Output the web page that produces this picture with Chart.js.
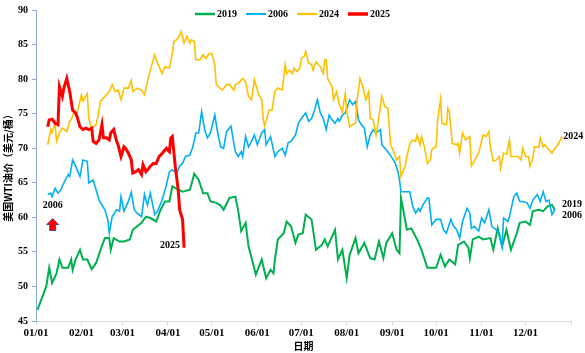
<!DOCTYPE html>
<html>
<head>
<meta charset="utf-8">
<script src="https://cdn.jsdelivr.net/npm/chart.js@4"></script>
<style>
  body { margin: 0; background: #fff; }
</style>
</head>
<body>
<canvas id="chart" width="585" height="353"></canvas>
<script>
/******************** data: [day of year, WTI price] ********************/

const monthDays = [0, 31, 59, 90, 120, 151, 181, 212, 243, 273, 304, 334, 365];
const monthLabels = ["01/01", "02/01", "03/01", "04/01", "05/01", "06/01",
  "07/01", "08/01", "09/01", "10/01", "11/01", "12/01", ""];

const seriesNames = ["2019", "2006", "2024", "2025"];

const wti2019 = [[1,46.6],[7,50.0],[9,52.7],[11,50.5],[14,51.9],[16,53.9],[18,52.7],[22,52.7],
  [24,53.9],[25,52.4],[27,53.9],[30,55.3],[32,53.9],[35,53.9],[38,52.5],[41,53.4],[44,55.3],
  [47,57.0],[50,57.0],[51,55.3],[53,57.0],[57,56.5],[60,56.5],[64,56.8],[66,58.2],[69,58.7],
  [72,59.2],[75,60.1],[78,59.9],[82,59.4],[85,61.1],[88,62.3],[91,62.3],[93,64.5],[97,64.0],
  [100,63.7],[105,64.0],[108,66.3],[111,65.4],[114,63.5],[117,63.5],[119,62.3],[123,62.1],
  [126,61.7],[128,61.1],[132,62.8],[136,63.0],[138,60.9],[140,58.0],[143,59.2],[145,55.8],
  [148,53.4],[150,51.7],[154,53.9],[157,51.2],[160,52.4],[162,51.9],[163,53.9],[165,56.8],
  [169,57.7],[171,59.4],[174,58.7],[177,56.3],[179,57.5],[182,57.7],[184,60.4],[188,59.7],
  [191,55.3],[195,56.0],[197,56.8],[199,55.8],[204,58.2],[206,53.9],[209,55.3],[212,51.2],
  [214,54.6],[218,57.0],[220,54.8],[224,56.3],[228,54.1],[231,53.9],[234,56.5],[237,54.1],
  [239,56.3],[243,57.7],[246,55.3],[248,54.8],[249,62.8],[251,60.6],[253,58.2],[256,58.4],
  [260,56.8],[263,55.3],[267,52.7],[269,52.7],[273,52.7],[276,54.6],[279,52.9],[282,53.9],
  [286,53.2],[288,56.0],[292,56.5],[295,55.6],[296,54.1],[298,56.8],[302,57.2],[305,56.8],
  [310,57.0],[312,55.3],[315,58.4],[318,55.8],[321,58.2],[324,55.3],[328,57.7],[330,59.2],
  [334,59.4],[337,58.9],[339,60.9],[343,61.1],[346,60.9],[349,61.6],[352,61.8],[354,61.1]];

const wti2006 = [[8,63.3],[10,63.5],[11,63.0],[13,64.2],[15,63.5],[17,64.0],[19,65.0],[22,66.2],
  [23,65.9],[25,68.3],[27,67.4],[30,65.9],[32,68.3],[35,68.1],[36,65.0],[39,65.4],[41,64.0],
  [43,62.5],[47,61.1],[49,59.7],[50,57.7],[52,60.1],[55,61.1],[57,60.9],[58,63.0],[60,60.9],
  [63,62.3],[65,63.6],[67,61.1],[69,60.6],[72,60.1],[74,63.3],[76,61.8],[78,63.5],[81,60.4],
  [83,60.9],[86,62.5],[89,64.7],[91,66.6],[93,66.9],[96,66.4],[98,67.4],[100,67.8],[102,68.8],
  [105,69.0],[107,70.2],[109,72.2],[111,72.2],[113,75.3],[115,72.7],[117,71.5],[119,72.2],
  [122,74.8],[124,72.2],[126,70.2],[128,70.0],[130,72.4],[133,73.2],[136,69.5],[138,68.8],
  [140,69.5],[141,68.8],[143,71.7],[145,70.2],[147,71.0],[149,71.9],[151,70.5],[154,72.2],
  [156,72.7],[157,70.5],[160,71.7],[163,68.8],[165,69.5],[168,70.0],[170,69.0],[172,70.8],
  [174,71.0],[177,71.9],[179,73.6],[181,74.3],[184,75.1],[186,73.9],[188,74.3],[190,75.5],
  [192,77.0],[194,75.1],[196,74.3],[198,72.7],[200,74.8],[202,74.1],[204,73.6],[206,74.3],
  [207,73.9],[209,74.8],[211,75.1],[214,77.0],[216,76.3],[218,76.8],[220,74.1],[222,73.4],
  [224,72.9],[226,70.2],[228,71.9],[230,72.7],[232,72.2],[235,72.7],[236,70.5],[238,70.0],
  [240,69.5],[243,68.6],[245,67.9],[247,66.6],[248,65.4],[249,63.7],[253,63.7],[255,63.7],
  [257,61.6],[259,60.6],[261,61.3],[262,60.9],[264,61.8],[267,62.8],[268,62.8],[270,58.9],
  [273,59.7],[276,59.7],[278,58.2],[280,57.7],[283,59.7],[285,58.7],[287,58.2],[289,57.0],
  [291,59.4],[294,61.3],[296,60.6],[297,58.4],[299,58.7],[302,58.0],[304,59.9],[306,59.2],
  [309,61.1],[311,58.7],[314,58.2],[316,57.7],[318,55.8],[319,59.9],[322,59.4],[323,60.1],
  [326,63.0],[328,63.5],[330,62.3],[332,62.3],[335,62.1],[337,61.3],[339,62.5],[342,63.3],
  [344,62.3],[346,63.7],[348,62.3],[350,62.5],[352,60.4],[354,61.1]];

const wti2024 = [[8,70.5],[10,72.7],[11,72.2],[13,73.6],[14,71.0],[16,72.2],[18,72.9],[21,72.4],
  [23,73.9],[24,74.1],[26,75.3],[27,74.8],[28,75.1],[31,77.7],[32,76.8],[35,77.9],[36,74.3],
  [38,72.9],[41,73.4],[42,74.3],[44,76.8],[47,77.5],[50,78.2],[52,79.2],[54,78.2],[56,78.4],
  [58,77.0],[60,78.7],[63,78.7],[65,79.8],[66,78.2],[69,78.7],[72,78.4],[74,77.7],[76,79.6],
  [78,81.3],[81,83.5],[83,82.3],[86,80.8],[88,81.8],[91,81.6],[93,83.7],[94,85.4],[97,85.9],
  [99,86.9],[101,85.2],[103,86.2],[105,85.2],[106,85.7],[108,85.4],[109,82.8],[112,82.8],
  [114,83.5],[116,83.0],[118,83.7],[120,83.7],[122,82.1],[123,79.2],[126,78.6],[127,78.4],
  [130,79.2],[132,79.2],[135,78.4],[136,79.2],[138,79.4],[141,80.1],[143,79.6],[145,77.5],
  [147,77.0],[149,79.9],[152,77.7],[154,77.0],[155,74.3],[156,73.2],[159,75.5],[161,75.5],
  [163,78.2],[165,78.7],[168,78.4],[170,82.1],[171,80.8],[173,81.3],[175,80.8],[176,81.6],
  [178,81.1],[180,81.6],[181,83.0],[183,83.3],[184,84.0],[186,82.3],[188,82.1],[189,81.3],
  [191,82.5],[194,81.8],[196,80.8],[197,82.8],[198,82.8],[199,80.1],[202,78.9],[203,77.0],
  [205,78.2],[207,76.3],[209,75.3],[211,77.9],[212,75.3],[214,73.1],[216,73.4],[218,73.6],
  [219,76.8],[221,80.1],[223,78.9],[225,77.0],[227,78.2],[228,74.3],[230,74.1],[232,71.9],
  [234,74.6],[236,77.5],[238,76.0],[240,75.8],[242,70.5],[244,69.5],[246,68.3],[248,68.8],
  [249,65.9],[252,67.5],[253,68.8],[255,70.6],[257,71.2],[259,71.0],[260,71.9],[262,70.5],
  [263,71.7],[265,70.2],[267,67.8],[269,68.3],[270,69.8],[271,70.0],[273,70.2],[274,74.1],
  [276,77.1],[277,73.6],[280,73.4],[281,75.8],[282,75.3],[284,70.7],[287,70.5],[288,70.7],
  [289,69.3],[291,72.2],[293,71.2],[296,71.7],[297,67.4],[299,68.1],[302,69.3],[305,71.9],
  [307,71.7],[309,72.4],[310,70.2],[312,68.1],[314,68.3],[316,68.8],[317,67.1],[319,69.3],
  [321,69.1],[323,71.2],[324,68.8],[327,68.8],[329,68.8],[331,68.3],[332,70.0],[334,68.8],
  [336,68.8],[337,67.4],[339,68.6],[340,70.2],[343,70.2],[344,71.5],[346,70.2],[347,70.5],
  [349,70.0],[352,69.3],[354,70.0],[356,70.5],[359,71.7]];

const wti2025 = [[8,73.1],[9,74.1],[11,74.2],[13,73.6],[15,73.4],[16,78.9],[18,77.5],[19,78.7],
  [21,80.1],[23,78.2],[25,75.5],[27,75.1],[28,74.6],[30,73.1],[32,72.7],[34,72.9],[36,72.7],
  [38,72.9],[39,71.0],[41,70.7],[43,71.2],[45,73.4],[46,71.5],[48,71.5],[50,71.2],[51,72.2],
  [53,72.7],[55,71.0],[56,70.5],[58,68.8],[60,70.2],[61,70.0],[63,69.3],[65,68.3],[66,66.4],
  [68,66.6],[70,66.9],[72,66.2],[73,67.6],[75,66.6],[77,67.1],[78,67.4],[80,67.8],[82,67.8],
  [84,68.8],[85,69.0],[87,69.5],[89,70.0],[91,69.5],[92,71.5],[93,71.7],[95,67.4],[97,64.0],
  [98,61.1],[100,59.7],[101,55.6]];

/******************** styles ********************/

const lineColors = ["#00B050", "#00B0F0", "#FFC000", "#FF0000"];
const lineWidths = [2, 1.6, 1.6, 3];
const tickFont = "Liberation Serif";

function toPoints(rows) {
  return rows.map(function (r) { return { x: r[0], y: r[1] }; });
}

/******************** legend + text labels plugin ********************/

const notesPlugin = {
  id: "notes",
  afterDraw(chart) {
    const ctx = chart.ctx;
    ctx.save();
    ctx.font = "bold 10px " + tickFont;
    ctx.fillStyle = "#000";
    ctx.textBaseline = "middle";

    // legend across the top
    const itemW = [];
    let total = 0;
    seriesNames.forEach(function (n, i) {
      const w = 20 + 2 + ctx.measureText(n).width;
      itemW.push(w);
      total += w + (i ? 9 : 0);
    });
    let x = chart.width / 2 - total / 2;
    const ly = 14;
    seriesNames.forEach(function (n, i) {
      ctx.strokeStyle = lineColors[i];
      ctx.lineWidth = lineWidths[i] + 0.5;
      ctx.beginPath();
      ctx.moveTo(x, ly);
      ctx.lineTo(x + 20, ly);
      ctx.stroke();
      ctx.textAlign = "left";
      ctx.fillText(n, x + 22, ly);
      x += itemW[i] + 9;
    });

    // end labels next to last points
    function last(i) {
      const pts = chart.getDatasetMeta(i).data;
      return pts[pts.length - 1];
    }
    function first(i) {
      return chart.getDatasetMeta(i).data[0];
    }
    ctx.textAlign = "left";
    let p = last(2);
    ctx.fillText("2024", p.x + 1, p.y);
    p = last(0);
    ctx.fillText("2019", p.x + 7, p.y - 5);
    p = last(1);
    ctx.fillText("2006", p.x + 7, p.y + 6);
    p = last(3);
    ctx.textAlign = "right";
    ctx.fillText("2025", p.x - 4, p.y - 2);

    // 2006 start marker with arrow
    p = first(1);
    ctx.textAlign = "center";
    ctx.fillText("2006", p.x + 5, p.y + 11);
    const ax = p.x + 5, ay = p.y + 30;
    ctx.beginPath();
    ctx.moveTo(ax, ay - 6);
    ctx.lineTo(ax + 6, ay);
    ctx.lineTo(ax + 3, ay);
    ctx.lineTo(ax + 3, ay + 6);
    ctx.lineTo(ax - 3, ay + 6);
    ctx.lineTo(ax - 3, ay);
    ctx.lineTo(ax - 6, ay);
    ctx.closePath();
    ctx.fillStyle = "#FF0000";
    ctx.fill();
    ctx.strokeStyle = "#3A4A8C";
    ctx.lineWidth = 1;
    ctx.stroke();
    ctx.restore();
  },
};

/******************** chart ********************/

const allSeries = [wti2019, wti2006, wti2024, wti2025];

const ctx = document.getElementById("chart").getContext("2d");
const myChart = new Chart(ctx, {
  type: "line",
  data: {
    datasets: allSeries.map(function (s, i) {
      return {
        label: seriesNames[i],
        data: toPoints(s),
        borderColor: lineColors[i],
        backgroundColor: lineColors[i],
        borderWidth: lineWidths[i],
        pointRadius: 0,
        tension: 0,
        order: i === 3 ? 0 : 4 - i,
      };
    }),
  },
  options: {
    responsive: false,
    animation: false,
    layout: {
      padding: { left: 0, right: 14, top: 10, bottom: 0 },
    },
    plugins: {
      legend: { display: false },
      tooltip: { enabled: false },
    },
    scales: {
      x: {
        type: "linear",
        min: 0,
        max: 365,
        afterFit: function (scale) { scale.height = 32; },
        afterBuildTicks: function (scale) {
          scale.ticks = monthDays.map(function (d) { return { value: d }; });
        },
        ticks: {
          autoSkip: false,
          maxRotation: 0,
          padding: 2,
          color: "#000",
          font: { family: tickFont, size: 11, weight: "bold" },
          callback: function (value) {
            const k = monthDays.indexOf(value);
            return k >= 0 ? monthLabels[k] : "";
          },
        },
        grid: {
          drawOnChartArea: false,
          drawTicks: true,
          tickLength: 4,
          color: "#D9D9D9",
        },
        border: { color: "#D9D9D9" },
        title: {
          display: true,
          text: "日期",
          color: "#000",
          padding: { top: 0, bottom: 1 },
          font: { family: "Noto Sans CJK SC", size: 10, weight: "bold" },
        },
      },
      y: {
        min: 45,
        max: 90,
        afterFit: function (scale) { scale.width = 36; },
        ticks: {
          stepSize: 5,
          padding: 4,
          color: "#000",
          font: { family: tickFont, size: 10, weight: "bold" },
        },
        grid: {
          drawOnChartArea: false,
          drawTicks: true,
          tickLength: 4,
          color: "#8EA9DB",
        },
        border: { color: "#8EA9DB" },
        title: {
          display: true,
          text: "美国WTI油价（美元/桶）",
          color: "#000",
          padding: { top: 2, bottom: 0 },
          font: { family: "Noto Sans CJK SC", size: 10, weight: "bold" },
        },
      },
    },
  },
  plugins: [notesPlugin],
});
</script>
</body>
</html>
